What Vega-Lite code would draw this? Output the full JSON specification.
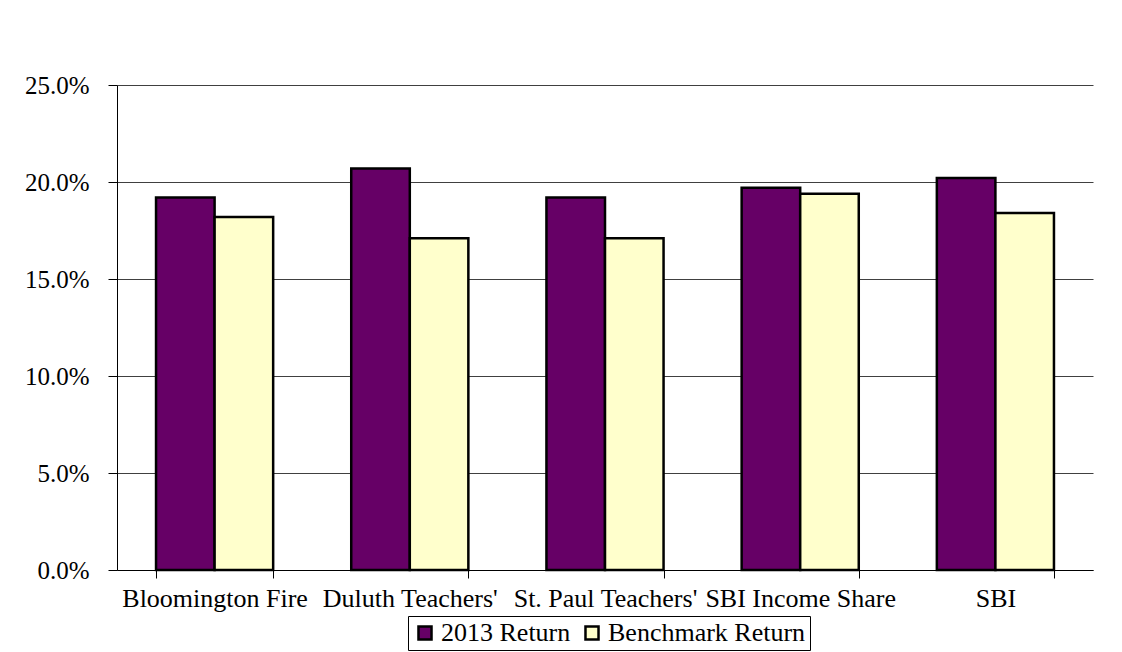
{
  "$schema": "https://vega.github.io/schema/vega-lite/v6.json",
  "width": 976,
  "height": 485,
  "autosize": {"type": "none"},
  "padding": {"left": 117, "top": 85, "right": 29, "bottom": 82},
  "background": "white",
  "config": {
    "view": {"stroke": null},
    "font": "Liberation Serif",
    "axis": {"labelFont": "Liberation Serif", "labelFontSize": 25, "labelColor": "black", "domainColor": "black", "tickColor": "black", "labelLimit": 0},
    "legend": {"labelFont": "Liberation Serif", "labelFontSize": 26, "labelColor": "black", "labelLimit": 0}
  },
  "data": {
    "values": [
      {"fund": "Bloomington Fire", "series": "2013 Return", "value": 0.192},
      {"fund": "Bloomington Fire", "series": "Benchmark Return", "value": 0.182},
      {"fund": "Duluth Teachers'", "series": "2013 Return", "value": 0.207},
      {"fund": "Duluth Teachers'", "series": "Benchmark Return", "value": 0.171},
      {"fund": "St. Paul Teachers'", "series": "2013 Return", "value": 0.192},
      {"fund": "St. Paul Teachers'", "series": "Benchmark Return", "value": 0.171},
      {"fund": "SBI Income Share", "series": "2013 Return", "value": 0.197},
      {"fund": "SBI Income Share", "series": "Benchmark Return", "value": 0.194},
      {"fund": "SBI", "series": "2013 Return", "value": 0.202},
      {"fund": "SBI", "series": "Benchmark Return", "value": 0.184}
    ]
  },
  "mark": {"type": "bar", "stroke": "black", "strokeWidth": 2.5},
  "encoding": {
    "x": {
      "field": "fund",
      "type": "nominal",
      "sort": null,
      "scale": {"paddingInner": 0.4, "paddingOuter": 0.2},
      "axis": {
        "title": null,
        "labelAngle": 0,
        "labelFontSize": 26,
        "tickBand": "extent",
        "tickSize": 8,
        "labelPadding": 7,
        "domainWidth": 1,
        "grid": false
      }
    },
    "xOffset": {"field": "series", "type": "nominal", "sort": null},
    "y": {
      "field": "value",
      "type": "quantitative",
      "scale": {"domain": [0, 0.25], "nice": false},
      "axis": {
        "title": null,
        "format": ".1%",
        "values": [0, 0.05, 0.1, 0.15, 0.2, 0.25],
        "tickSize": 9,
        "labelPadding": 19,
        "grid": true,
        "gridColor": "#404040",
        "gridWidth": 1,
        "gridOpacity": 1
      }
    },
    "color": {
      "field": "series",
      "type": "nominal",
      "sort": null,
      "scale": {"domain": ["2013 Return", "Benchmark Return"], "range": ["#660066", "#FFFFCC"]},
      "legend": {
        "title": null,
        "orient": "none",
        "legendX": 291,
        "legendY": 531,
        "direction": "horizontal",
        "symbolType": "square",
        "symbolSize": 170,
        "symbolStrokeColor": "black",
        "symbolStrokeWidth": 2.5,
        "symbolOpacity": 1,
        "strokeColor": "black",
        "padding": 4,
        "columnPadding": 8,
        "labelOffset": 3
      }
    }
  }
}
